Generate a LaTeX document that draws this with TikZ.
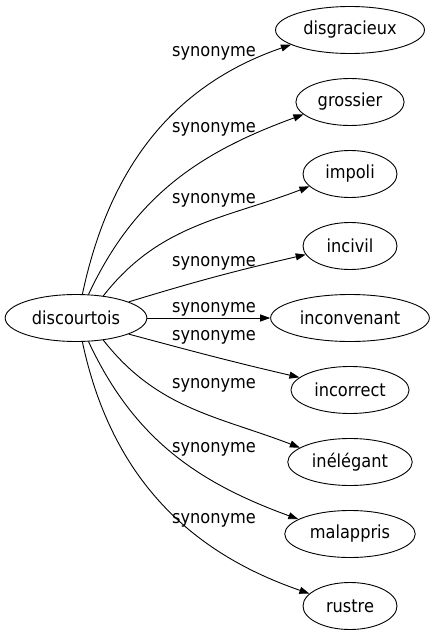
\documentclass[tikz,border=0pt]{standalone}
\usepackage{fontspec}
\setmainfont{DejaVu Sans}[FakeStretch=0.9]
\usetikzlibrary{%
  shapes.geometric,%
  arrows.meta%
}

\begin{document}
\begin{tikzpicture}[x=1pt,y=1pt,
  mot/.style={ellipse,draw,line width=.9pt,minimum height=47pt,minimum width=94pt,
    inner xsep=6pt,inner ysep=0pt,font=\fontsize{18}{20}\selectfont},
  lien/.style={line width=.9pt,-{Triangle[length=10pt,width=7pt]}},
  syn/.style={anchor=base,inner sep=0pt,font=\fontsize{18}{20}\selectfont}]

  \useasboundingbox (0,0) rectangle (433,-635);

  %% the word
  \node[mot] (disc) at (76,-318) {discourtois};

  %% its synonyms, one row every 72
  \node[mot] (disg) at (350,-30)  {disgracieux};
  \node[mot] (gros) at (350,-102) {grossier};
  \node[mot] (impo) at (350,-174) {impoli};
  \node[mot] (inci) at (350,-246) {incivil};
  \node[mot] (inco) at (350,-318) {inconvenant};
  \node[mot] (inre) at (350,-390) {incorrect};
  \node[mot] (inel) at (350,-462) {inélégant};
  \node[mot] (mala) at (350,-534) {malappris};
  \node[mot] (rust) at (350,-606) {rustre};

  %%%%%%%%%%%%%%%%
  % upper fan
  \draw[lien] (disc.75) to[out=78,in=199] (disg.194);
  \draw[lien] (disc.62) to[out=65,in=200] (gros.195);
  \draw[lien] (disc.39) to[out=52,in=201] (impo.197);
  \draw[lien] (disc.17) to[out=17,in=193] (inci.191);

  %% straight one
  \draw[lien] (disc) -- (inco);

  % lower fan
  \draw[lien] (disc.343) to[out=345,in=167] (inre.166);
  \draw[lien] (disc.321) to[out=308,in=159] (inel.164);
  \draw[lien] (disc.298) to[out=295,in=160] (mala.164);
  \draw[lien] (disc.285) to[out=282,in=161] (rust.163);

  %%%%%%%%%%%%%%%%
  %% edge labels
  \node[syn] (s1) at (214,-56)  {synonyme};
  \node[syn] (s2) at (214,-132) {synonyme};
  \node[syn] (s3) at (214,-203) {synonyme};
  \node[syn] (s4) at (214,-266) {synonyme};
  \node[syn] (s5) at (214,-312) {synonyme};
  \node[syn] (s6) at (214,-340) {synonyme};
  \node[syn] (s7) at (214,-388) {synonyme};
  \node[syn] (s8) at (214,-452) {synonyme};
  \node[syn] (s9) at (214,-523) {synonyme};

\end{tikzpicture}
\end{document}
